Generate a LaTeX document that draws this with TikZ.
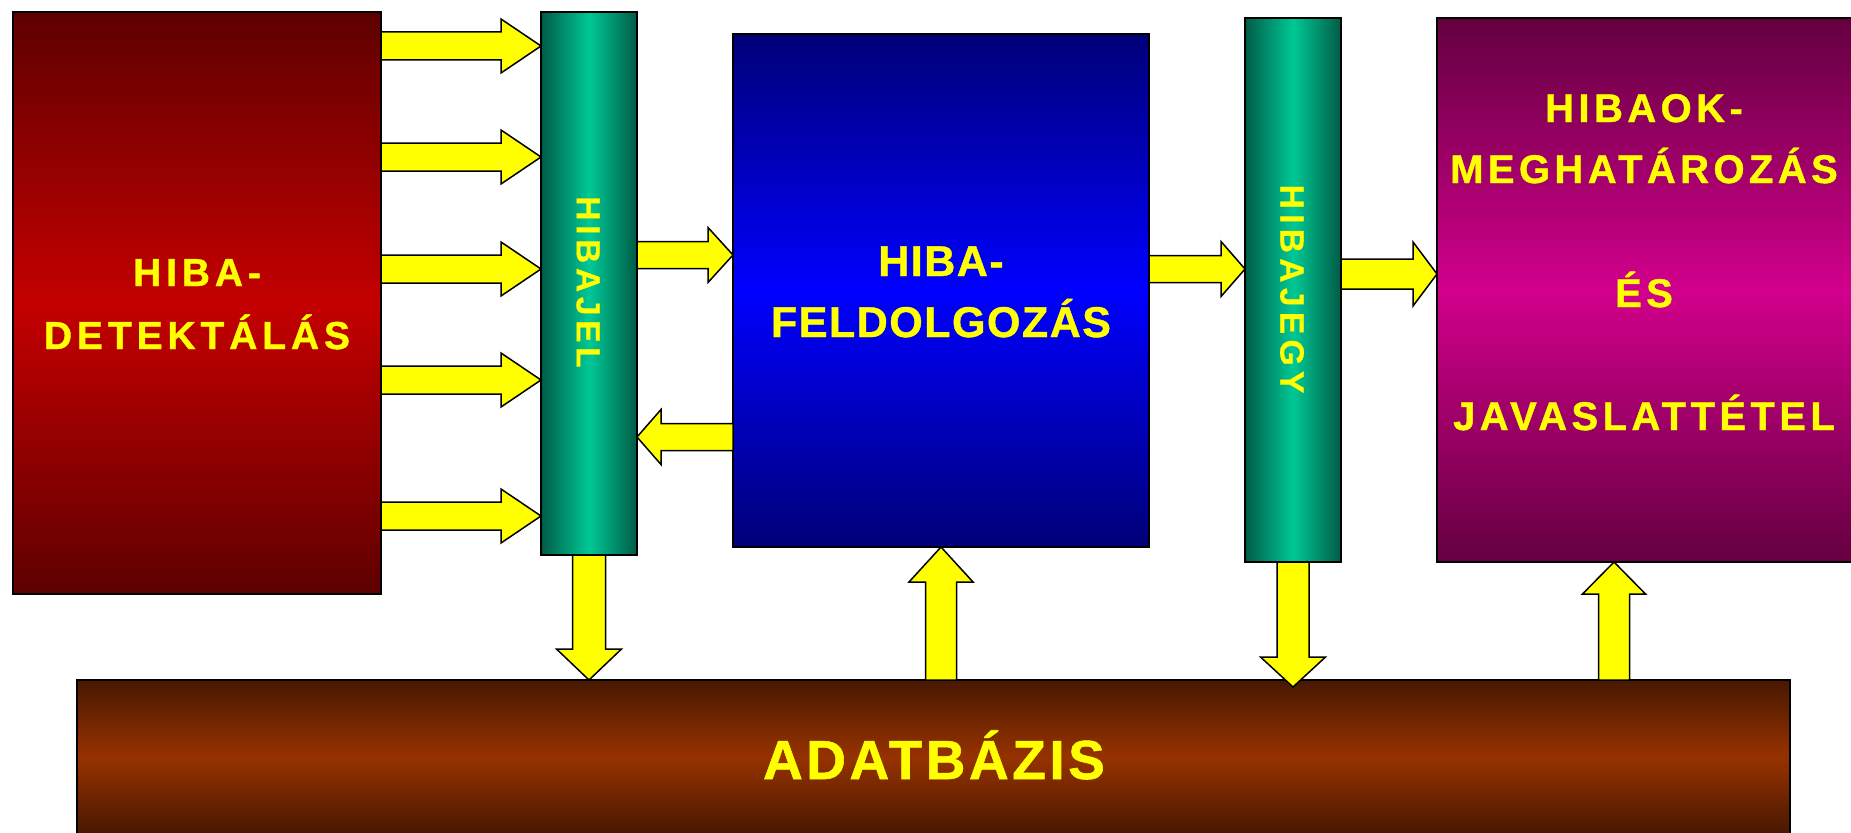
\documentclass[tikz,border=0pt]{standalone}
\usepackage{fontspec}
\setmainfont{Liberation Sans}
\newfontfamily\fdet{Liberation Sans}[LetterSpace=12.5,FakeBold=1]
\newfontfamily\ffeld{Liberation Sans}[LetterSpace=3.5,FakeBold=1]
\newfontfamily\fjav{Liberation Sans}[LetterSpace=11,FakeBold=1]
\newfontfamily\fdb{Liberation Sans}[LetterSpace=6.4,FakeBold=1]
\newfontfamily\fjel{Liberation Sans}[LetterSpace=14,FakeBold=0.5]
\newfontfamily\fjegy{Liberation Sans}[LetterSpace=16,FakeBold=0.5]
\usetikzlibrary{calc}

\definecolor{ayellow}{HTML}{FFFF00}
\definecolor{redD}{HTML}{5E0000}
\definecolor{redM}{HTML}{C40000}
\definecolor{tealD}{HTML}{005C46}
\definecolor{tealM}{HTML}{00C896}
\definecolor{blueD}{HTML}{000078}
\definecolor{blueM}{HTML}{0000FF}
\definecolor{purD}{HTML}{640040}
\definecolor{purM}{HTML}{D2008C}
\definecolor{dbD}{HTML}{481800}
\definecolor{dbM}{HTML}{963200}

\tikzset{
  box/.style={draw=black, line width=1.5pt, rectangle, inner sep=0pt, outer sep=0pt},
  vshade/.style 2 args={top color=#1, bottom color=#1, middle color=#2},
  hshade/.style 2 args={left color=#1, right color=#1, middle color=#2},
  yarr/.style={draw=black, fill=ayellow, line width=1.5pt, line join=miter},
  lbl/.style={text=ayellow, inner sep=0pt, outer sep=0pt},
}

% block arrow: #1 start, #2 tip, #3 half shaft, #4 half head, #5 head length
\newcommand\blockarrow[5]{%
  \path ($(#2)!#5!(#1)$) coordinate (bah);
  \draw[yarr] ($(#1)!#3!90:(#2)$) -- ($(bah)!#3!90:(#2)$) -- ($(bah)!#4!90:(#2)$)
    -- (#2) -- ($(bah)!#4!-90:(#2)$) -- ($(bah)!#3!-90:(#2)$) -- ($(#1)!#3!-90:(#2)$) -- cycle;
}

\begin{document}
\begin{tikzpicture}[x=1pt,y=-1pt]
\useasboundingbox (0,0) rectangle (1851,832);

% boxes
\node[box, vshade={redD}{redM}, minimum width=368pt, minimum height=582pt] (det) at (197,303) {};
\node[box, hshade={tealD}{tealM}, minimum width=96pt, minimum height=543pt] (jel) at (589,283.5) {};
\node[box, vshade={blueD}{blueM}, minimum width=416pt, minimum height=513pt] (feld) at (941,290.5) {};
\node[box, hshade={tealD}{tealM}, minimum width=96pt, minimum height=544pt] (jegy) at (1293,290) {};
\node[box, vshade={purD}{purM}, minimum width=415pt, minimum height=544pt] (jav) at (1644.5,290) {};
\node[box, vshade={dbD}{dbM}, minimum width=1713pt, minimum height=154pt] (db) at (933.5,757) {};

% labels
\node[lbl, anchor=base, font={\fdet\bfseries\fontsize{39pt}{39pt}\selectfont}] (detA) at (197,286) {HIBA-};
\node[lbl, anchor=base, font={\fdet\bfseries\fontsize{39pt}{39pt}\selectfont}] (detB) at (197,349) {DETEKTÁLÁS};
\node[lbl, anchor=base, font={\ffeld\bfseries\fontsize{43pt}{43pt}\selectfont}] (feldA) at (941,276) {HIBA-};
\node[lbl, anchor=base, font={\ffeld\bfseries\fontsize{43pt}{43pt}\selectfont}] (feldB) at (941,337) {FELDOLGOZÁS};
\node[lbl, anchor=base, font={\fjav\bfseries\fontsize{40pt}{40pt}\selectfont}] (javA) at (1644,122) {HIBAOK-};
\node[lbl, anchor=base, font={\fjav\bfseries\fontsize{40pt}{40pt}\selectfont}] (javB) at (1644,183) {MEGHATÁROZÁS};
\node[lbl, anchor=base, font={\fjav\bfseries\fontsize{40pt}{40pt}\selectfont}] (javC) at (1644,307) {ÉS};
\node[lbl, anchor=base, font={\fjav\bfseries\fontsize{40pt}{40pt}\selectfont}] (javD) at (1644,430) {JAVASLATTÉTEL};
\node[lbl, anchor=base, font={\fdb\bfseries\fontsize{55pt}{55pt}\selectfont}] (dbA) at (934,779) {ADATBÁZIS};
\node[lbl, rotate=-90, font={\fjel\bfseries\fontsize{33.5pt}{33.5pt}\selectfont}] (jelA) at (588,282) {HIBAJEL};
\node[lbl, rotate=-90, font={\fjegy\bfseries\fontsize{33.5pt}{33.5pt}\selectfont}] (jegyA) at (1292,289) {HIBAJEGY};

% arrows detection -> hibajel
\foreach \yy [count=\i] in {46,157,269,380,516}{
  \coordinate (d\i s) at (det.east |- 0,\yy);
  \coordinate (d\i t) at (jel.west |- 0,\yy);
  \blockarrow{d\i s}{d\i t}{14pt}{27pt}{40pt}
}

% hibajel <-> feldolgozas
\coordinate (jf s) at (jel.east |- 0,255);
\coordinate (jf t) at (feld.west |- 0,255);
\blockarrow{jf s}{jf t}{13.5pt}{27.5pt}{25pt}
\coordinate (fj s) at (feld.west |- 0,437);
\coordinate (fj t) at (jel.east |- 0,437);
\blockarrow{fj s}{fj t}{13.5pt}{27.5pt}{24pt}

% feldolgozas -> hibajegy
\coordinate (fg s) at (feld.east |- 0,269);
\coordinate (fg t) at (jegy.west |- 0,269);
\blockarrow{fg s}{fg t}{13.5pt}{27.5pt}{24pt}

% hibajegy -> javaslat
\coordinate (gj s) at (jegy.east |- 0,274);
\coordinate (gj t) at (jav.west |- 0,274);
\blockarrow{gj s}{gj t}{15pt}{32pt}{24pt}

% vertical arrows with database
\coordinate (jd s) at (jel.south);
\coordinate (jd t) at (jel.south |- db.north);
\blockarrow{jd s}{jd t}{16.5pt}{32.5pt}{31pt}

\coordinate (df s) at (feld.south |- db.north);
\coordinate (df t) at (feld.south);
\blockarrow{df s}{df t}{15.5pt}{32pt}{35pt}

\coordinate (gd s) at (jegy.south);
\coordinate (gd t) at ($(jegy.south |- db.north)+(0,7)$);
\blockarrow{gd s}{gd t}{16pt}{32.5pt}{30pt}

\coordinate (dj s) at (db.north -| 1614,0);
\coordinate (dj t) at (jav.south -| 1614,0);
\blockarrow{dj s}{dj t}{15.5pt}{31.5pt}{32pt}
\end{tikzpicture}
\end{document}
